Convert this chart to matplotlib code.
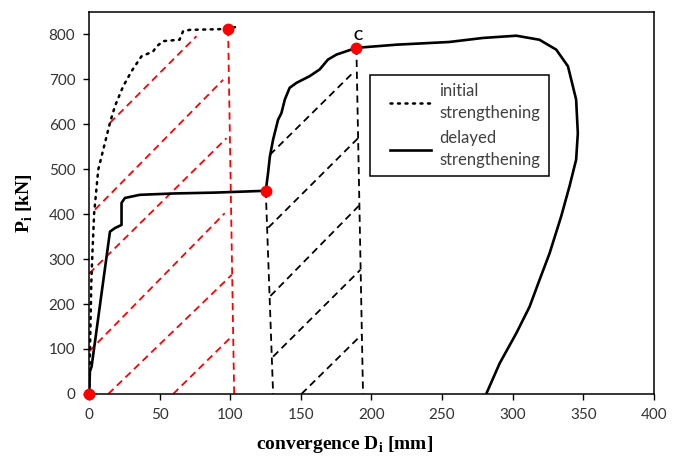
"""Pi - Di convergence curves, initial vs delayed strengthening"""
import matplotlib
matplotlib.use("Agg")
import matplotlib.pyplot as plt
from matplotlib.lines import Line2D
from matplotlib.legend_handler import HandlerLine2D

plt.rcParams["font.family"] = ["Lato", "DejaVu Sans"]
plt.rcParams["mathtext.fontset"] = "custom"
plt.rcParams["mathtext.rm"] = "Liberation Serif:bold"

# ── data ──
init_x = [0, 0.5, 1.5, 2.5, 3.5, 6.4, 11.1, 14.7, 18.2, 24, 30, 37, 45.3, 47.7, 52.4, 64, 66.5, 71.3, 98.4, 105.5]
init_y = [0, 90, 250, 330, 402, 499, 558, 603, 640, 684, 718, 751, 762, 773, 785, 788, 807, 810, 812, 818]

delayed_x = [0, 0.5, 1.7, 14.7, 18.2, 22.9, 22.9, 25.3, 35.9, 60, 90, 125.1, 126.7, 128, 130.3, 133.8,
             136.2, 138.6, 142, 146.8, 156.2, 163.3, 169.2, 175.2, 189.3, 217.6, 255, 279, 302.6, 319,
             330.9, 339.2, 345, 346.2, 345, 340.3, 334.4, 326.2, 319.1, 312, 302.6, 290.8, 281.3]
delayed_y = [0, 50, 61, 361, 369, 376, 425, 436, 443, 446, 448, 452, 491, 528, 566, 610,
             625, 655, 681, 692, 707, 722, 744, 755, 770, 777, 783, 792, 797, 788,
             766, 729, 655, 580, 521, 462, 395, 313, 254, 194, 135, 68, 0]

# key points (red dots)
pts_x = [0, 98.4, 125.1, 189.3]
pts_y = [0, 812, 452, 770]

# red construction lines (initial strengthening)
red_vert_x = [98.4, 102.7]
red_vert_y = [812, 0]
red_x0 = [59.5, 13.5, 0, 0, 4.1, 14.7]
red_y0 = [0, 0, 95, 268, 410, 603]
red_x1 = [101, 101, 96, 97.3, 94.9, 76]
red_y1 = [128, 265, 402, 569, 699, 796]

# black construction lines (delayed strengthening)
blk_vert_x0 = [125.1, 189.3]
blk_vert_y0 = [452, 770]
blk_vert_x1 = [130.3, 194]
blk_x0 = [150.4, 130.3, 128.4, 126.9, 128]
blk_y0 = [0, 83, 218, 370, 532]
blk_x1 = [192.8, 192.1, 191.5, 190.5, 188]
blk_y1 = [131, 276, 420, 569, 718]

# ── plot ──
fig = plt.figure(figsize=(6.81, 4.57), dpi=100)
ax = fig.add_axes([0.131, 0.138, 0.829, 0.836])

dash = (0, (4, 2.6))
ax.plot(red_vert_x, red_vert_y, color="#FF0000", lw=1.3, linestyle=dash)
for x0, y0, x1, y1 in zip(red_x0, red_y0, red_x1, red_y1):
    ax.plot([x0, x1], [y0, y1], color="#FF0000", lw=1.3, linestyle=dash)

for x0, y0, x1 in zip(blk_vert_x0, blk_vert_y0, blk_vert_x1):
    ax.plot([x0, x1], [y0, 0], color="black", lw=1.3, linestyle=dash)
for x0, y0, x1, y1 in zip(blk_x0, blk_y0, blk_x1, blk_y1):
    ax.plot([x0, x1], [y0, y1], color="black", lw=1.3, linestyle=dash)

ax.plot(init_x, init_y, color="black", lw=1.8, linestyle=(0, (0.8, 2.2)),
        dash_capstyle="round", label="initial\nstrengthening")
ax.plot(delayed_x, delayed_y, color="black", lw=1.9, label="delayed\nstrengthening")

ax.plot(pts_x, pts_y, "o", color="#FF0000", markersize=7.5, clip_on=False, zorder=5)
ax.text(pts_x[3] + 1, pts_y[3] + 14, "C", fontsize=10, fontweight="bold",
        ha="center", va="bottom", color="black")

ax.set_xlim(0, 400)
ax.set_ylim(0, 850)
ax.set_xticks(range(0, 401, 50))
ax.set_yticks(range(0, 801, 100))
ax.tick_params(direction="out", length=4, width=1, labelsize=11, labelcolor="#333333", pad=6)
for s in ax.spines.values():
    s.set_linewidth(1.1)

ax.set_xlabel(r"convergence D$_{\mathrm{i}}$ [mm]", fontsize=14, fontweight="bold",
              family="Liberation Serif")
ax.xaxis.set_label_coords(0.453, -0.106)
ax.set_ylabel(r"P$_{\mathrm{i}}$ [kN]", fontsize=14, fontweight="bold",
              family="Liberation Serif", labelpad=10)

leg = ax.legend(loc="upper left", bbox_to_anchor=(0.497, 0.835), borderaxespad=0,
                fontsize=12, handlelength=3.2, handletextpad=0.48, labelspacing=0.55,
                borderpad=0.5, fancybox=False, framealpha=1, edgecolor="black",
                labelcolor="#404040", handler_map={Line2D: HandlerLine2D(xpad=0.7)})
leg.get_frame().set_linewidth(1.1)
for t in leg.get_texts():
    t.set_linespacing(1.45)

plt.savefig("out.png", dpi=100)
plt.close()
